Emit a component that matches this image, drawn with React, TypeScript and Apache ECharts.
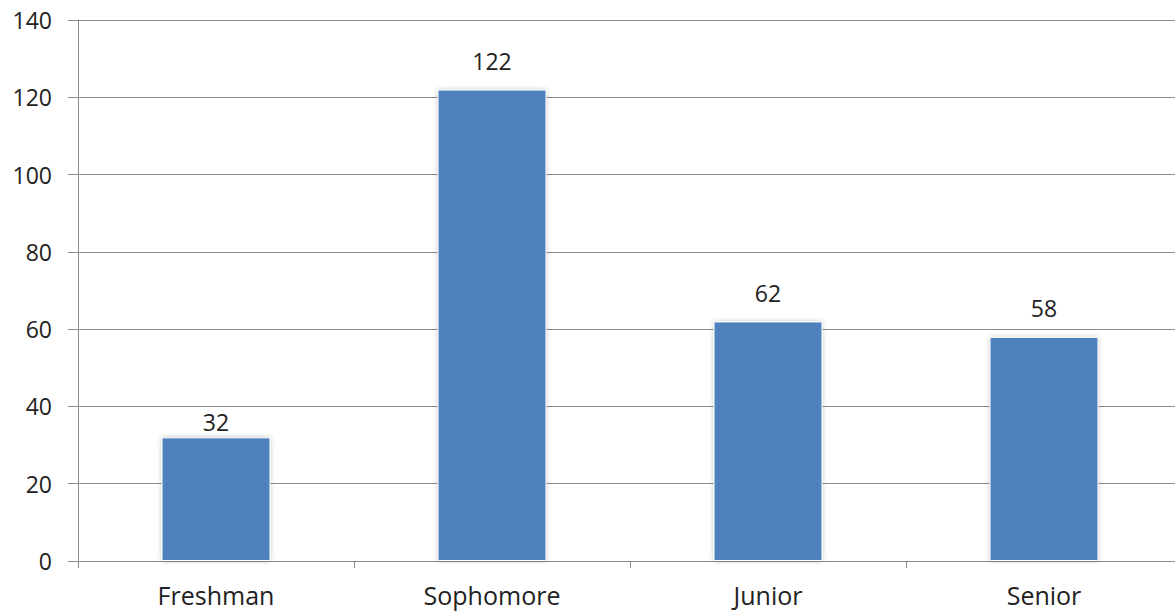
import React, { useEffect, useRef } from "react";
import * as echarts from "echarts";

const categories = ["Freshman", "Sophomore", "Junior", "Senior"];
const values = [32, 122, 62, 58];
const labelGaps = [4, 17, 17, 17];
const yTicks = { min: 0, max: 140, interval: 20 };

export default function App() {
  const ref = useRef<HTMLDivElement>(null);
  useEffect(() => {
    const chart = echarts.init(ref.current!, null, { renderer: "svg" });
    const font = "'Open Sans', sans-serif";
    chart.setOption({
      animation: false,
      backgroundColor: "#fff",
      grid: { left: 78, top: 20, right: 0, bottom: 52, containLabel: false },
      xAxis: {
        type: "category",
        data: categories,
        axisLine: { lineStyle: { color: "#8c8c8c", width: 1 } },
        axisTick: { show: true, length: 7, lineStyle: { color: "#8c8c8c" } },
        axisLabel: { color: "#222", fontSize: 25, fontFamily: font, margin: 21 },
      },
      yAxis: {
        type: "value",
        min: yTicks.min,
        max: yTicks.max,
        interval: yTicks.interval,
        axisLine: { show: true, lineStyle: { color: "#8c8c8c", width: 1 } },
        axisTick: { show: true, length: 10, lineStyle: { color: "#8c8c8c" } },
        splitLine: { lineStyle: { color: "#8c8c8c", width: 1 } },
        axisLabel: { color: "#222", fontSize: 23, fontFamily: font, margin: 26 },
      },
      series: [
        {
          type: "bar",
          data: values.map((v, i) => ({ value: v, label: { distance: labelGaps[i] } })),
          barWidth: 109,
          itemStyle: {
            color: "#4F81BD",
            borderColor: "#ffffff",
            borderWidth: 1,
            shadowColor: "rgba(0,0,0,0.25)",
            shadowBlur: 4,
          },
          label: {
            show: true,
            position: "top",
            color: "#222",
            fontSize: 23,
            fontFamily: font,
          },
        },
      ],
    });
    return () => chart.dispose();
  }, []);
  return (
    <div style={{ position: "absolute", left: 0, top: 0, width: 1175, height: 613, overflow: "hidden" }}>
      <div ref={ref} style={{ width: 1182, height: 613 }} />
    </div>
  );
}
